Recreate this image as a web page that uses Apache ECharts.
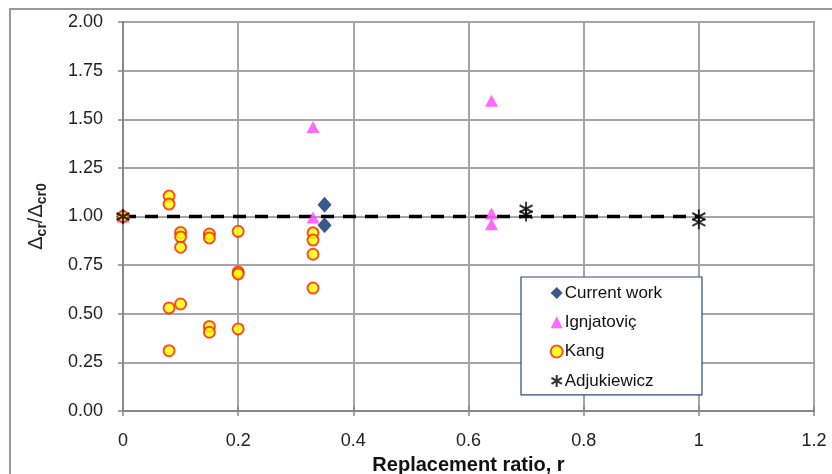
<!DOCTYPE html>
<html><head><meta charset="utf-8">
<script src="https://cdn.jsdelivr.net/npm/echarts@6/dist/echarts.min.js"></script>
<style>html,body{margin:0;padding:0;background:#fff}#c{width:832px;height:474px}</style>
</head><body><div id="c"></div>
<script>
// Data (replacement ratio r, Δcr/Δcr0)
const currentWork = [[0, 1.0], [0.35, 1.06], [0.35, 0.955]];
const ignjatovic = [[0, 1.0], [0.33, 1.46], [0.33, 0.995], [0.64, 1.595], [0.64, 1.015], [0.64, 0.96]];
const kang = [[0, 1.0],
  [0.08, 1.105], [0.08, 1.064], [0.08, 0.53], [0.08, 0.31],
  [0.1, 0.918], [0.1, 0.895], [0.1, 0.842], [0.1, 0.55],
  [0.15, 0.91], [0.15, 0.89], [0.15, 0.435], [0.15, 0.405],
  [0.2, 0.924], [0.2, 0.715], [0.2, 0.705], [0.2, 0.422],
  [0.33, 0.916], [0.33, 0.879], [0.33, 0.806], [0.33, 0.632]];
const adjukiewicz = [[0, 1.0], [0.7, 1.04], [0.7, 1.01], [1.0, 1.0], [1.0, 0.97]];
const refLine = [[0, 1.0], [1.0, 1.0]];
const xTicks = { min: 0, max: 1.2, interval: 0.2 };
const yTicks = { min: 0, max: 2, interval: 0.25 };

const star = 'path://M0,-10L0,10M-8.66,-5L8.66,5M-8.66,5L8.66,-5';
const font = 'Liberation Sans, Arial, sans-serif';
const chart = echarts.init(document.getElementById('c'));
chart.setOption({
  animation: false,
  backgroundColor: '#fff',
  graphic: [{ type: 'rect', shape: { x: 10, y: 9, width: 900, height: 600 }, style: { fill: 'none', stroke: '#999', lineWidth: 2 }, z: -10 }],
  grid: { left: 123, top: 22, right: 18, bottom: 63, show: true, borderColor: '#333', borderWidth: 1.5, containLabel: false, outerBoundsMode: 'none' },
  xAxis: [{
    type: 'value', min: xTicks.min, max: xTicks.max, interval: xTicks.interval,
    axisLine: { show: true, lineStyle: { color: '#888', width: 2 } },
    axisTick: { show: true, length: 5, lineStyle: { color: '#888', width: 1.5 } },
    axisLabel: { margin: 21, fontSize: 18, color: '#222', fontFamily: font },
    splitLine: { show: true, lineStyle: { color: '#a6a6a6', width: 2 } },
    name: 'Replacement ratio, r', nameLocation: 'middle', nameGap: 44,
    nameTextStyle: { fontSize: 20, fontWeight: 'bold', color: '#111', fontFamily: font }
  }, {
    type: 'value', position: 'bottom', min: xTicks.min, max: xTicks.max, interval: xTicks.interval,
    axisLine: { show: false }, axisTick: { show: true, inside: true, length: 5, lineStyle: { color: '#888', width: 1.5 } },
    axisLabel: { show: false }, splitLine: { show: false }
  }],
  yAxis: {
    type: 'value', min: yTicks.min, max: yTicks.max, interval: yTicks.interval,
    axisLine: { show: true, lineStyle: { color: '#888', width: 2 } },
    axisTick: { show: true, length: 5, lineStyle: { color: '#888', width: 1.5 } },
    axisLabel: { margin: 20, fontSize: 18, color: '#222', fontFamily: font, formatter: v => v.toFixed(2) },
    splitLine: { show: true, lineStyle: { color: '#a6a6a6', width: 2 } },
    name: '{a|Δ}{s|cr}{a|/Δ}{s|cr0}', nameLocation: 'middle', nameGap: 77, nameRotate: 90,
    nameTextStyle: { rich: {
      a: { fontSize: 20, color: '#222', fontFamily: font, verticalAlign: 'bottom', lineHeight: 22 },
      s: { fontSize: 14, fontWeight: 'bold', color: '#222', fontFamily: font, verticalAlign: 'bottom', lineHeight: 16, padding: [0, 0, -3, 0] }
    } }
  },
  legend: {
    orient: 'vertical', left: 521, top: 277,
    padding: [7, 40, 5, 28], itemGap: 11.3, itemWidth: 12, itemHeight: 12,
    borderColor: '#2c4a80', borderWidth: 1.2, backgroundColor: '#fff',
    textStyle: { fontSize: 17, color: '#111', fontFamily: font, lineHeight: 18, padding: [0, 0, 0, -3] },
    data: ['Current work', 'Ignjatoviç', 'Kang', 'Adjukiewicz']
  },
  series: [
    { type: 'line', name: 'ref', data: refLine, symbol: 'none', silent: true, z: 1,
      lineStyle: { color: '#000', width: 3.5, type: [13, 9] } },
    { type: 'scatter', name: 'Current work', data: currentWork, symbol: 'diamond', symbolSize: [14, 16], z: 3,
      itemStyle: { color: '#06306e' } },
    { type: 'scatter', name: 'Ignjatoviç', data: ignjatovic, symbol: 'triangle', symbolSize: [13, 12], z: 4,
      itemStyle: { color: '#ff44ff' } },
    { type: 'scatter', name: 'Kang', data: kang, symbol: 'circle', symbolSize: 11, z: 5,
      itemStyle: { color: '#ffff00', borderColor: '#ff2200', borderWidth: 2 } },
    { type: 'scatter', name: 'Adjukiewicz', data: adjukiewicz, symbol: star, symbolSize: [13, 14], z: 6,
      itemStyle: { color: 'none', borderColor: '#000', borderWidth: 2 } }
  ]
});
</script></body></html>
